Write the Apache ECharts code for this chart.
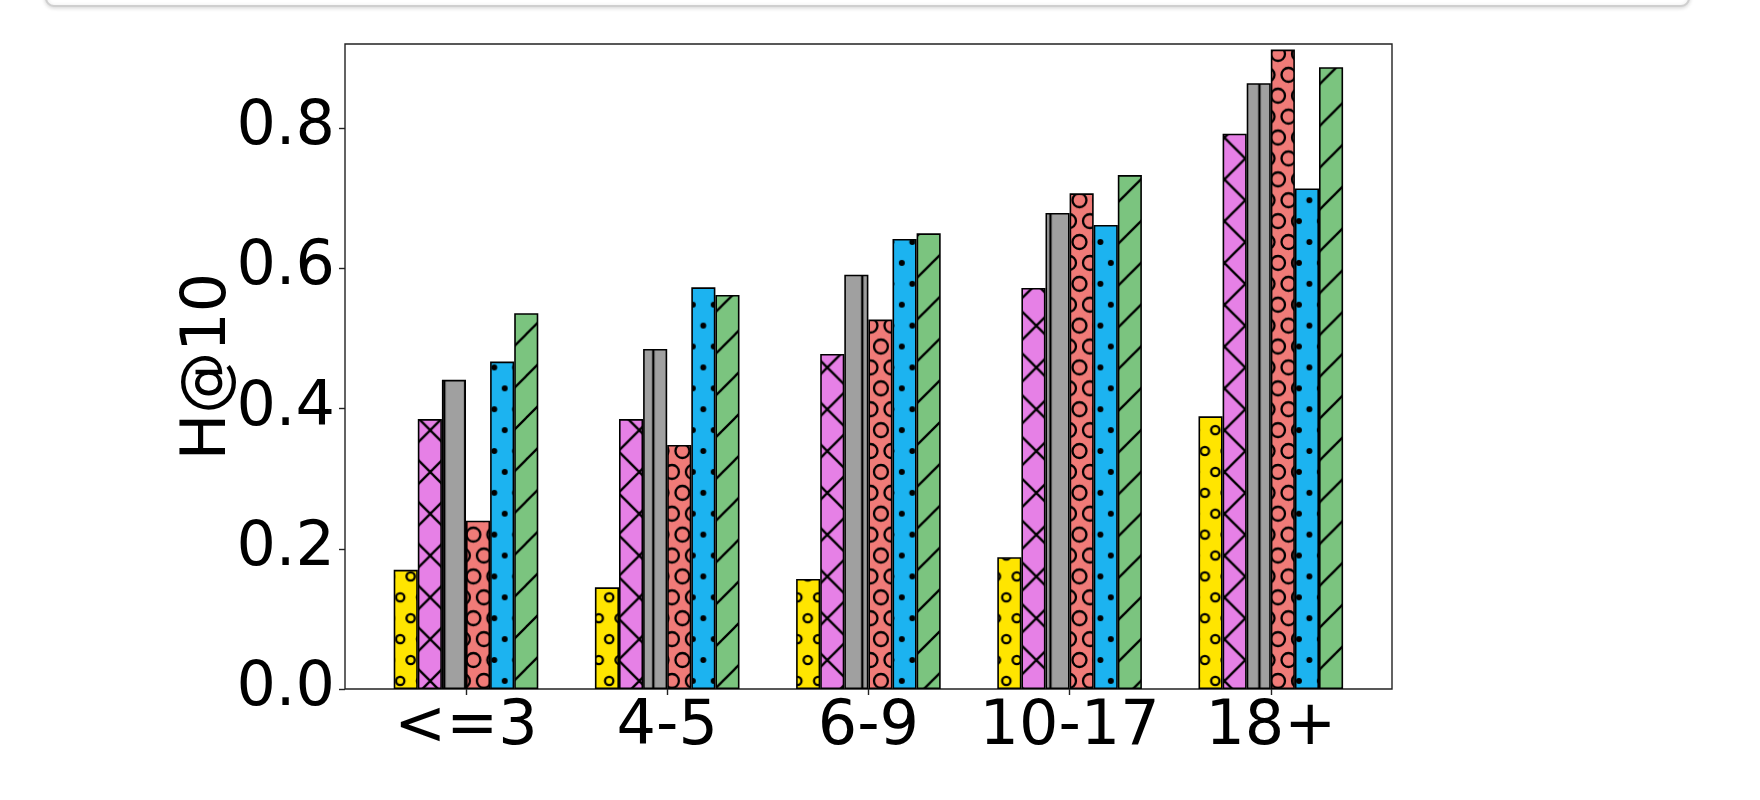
<!DOCTYPE html>
<html>
<head>
<meta charset="utf-8">
<script src="https://cdn.jsdelivr.net/npm/echarts@6/dist/echarts.min.js"></script>
<style>
  html, body { margin: 0; padding: 0; background: #fff; }
  #chart { width: 1760px; height: 800px; }
</style>
</head>
<body>
<div id="chart"></div>
<script>
// categories and H@10 values
const categories = ['<=3', '4-5', '6-9', '10-17', '18+'];
const yellowVals = [0.170, 0.145, 0.157, 0.188, 0.389];
const pinkVals = [0.385, 0.385, 0.478, 0.572, 0.792];
const grayVals = [0.441, 0.485, 0.591, 0.679, 0.864];
const redVals = [0.240, 0.348, 0.527, 0.707, 0.912];
const blueVals = [0.467, 0.573, 0.642, 0.662, 0.714];
const greenVals = [0.536, 0.562, 0.650, 0.733, 0.887];
const yTicks = [0, 0.2, 0.4, 0.6, 0.8];

// hatch tiles (period 21px in tile space, scaled a bit to match the picture)
const K = 20.9 / 21;
const makeTile = (w, h, bg, draw) => {
  const c = document.createElement('canvas');
  c.width = w;
  c.height = h;
  const ctx = c.getContext('2d');
  ctx.fillStyle = bg;
  ctx.fillRect(0, 0, w, h);
  ctx.strokeStyle = '#000';
  ctx.fillStyle = '#000';
  ctx.lineWidth = 2.3;
  draw(ctx);
  return c;
};
const circleCenters = [[0, 0], [21, 0], [0, 42], [21, 42], [10.5, 21]];
const circles = (r, filled) => (ctx) => {
  circleCenters.forEach(([cx, cy]) => {
    ctx.beginPath();
    ctx.arc(cx, cy, r, 0, Math.PI * 2);
    if (filled) ctx.fill();
    else ctx.stroke();
  });
};
const lines = (segs) => (ctx) => {
  ctx.beginPath();
  segs.forEach(([a, b, c, d]) => {
    ctx.moveTo(a, b);
    ctx.lineTo(c, d);
  });
  ctx.stroke();
};
const fwd = [[-42, 42, 42, -42], [0, 42, 42, 0], [0, 84, 84, 0]];
const back = [[-42, -42, 42, 42], [0, -42, 84, 42], [-42, 0, 42, 84]];

const pattern = (canvas, x, y) => ({ image: canvas, repeat: 'repeat', x: x, y: y, scaleX: K, scaleY: K });

const fills = [
  pattern(makeTile(21, 42, '#FFE500', circles(4.2, false)), 3.1, 12.1), // o
  pattern(makeTile(42, 42, '#E680E6', lines(fwd.concat(back))), 12.2, 12.2), // x
  pattern(makeTile(21, 21, '#A0A0A0', lines([[0, 0, 0, 21], [21, 0, 21, 21]])), 5.4, 0), // |
  pattern(makeTile(21, 42, '#F07B78', circles(7.0, false)), 3.1, 12.1), // O
  pattern(makeTile(21, 42, '#1CB3F0', circles(3.0, true)), 3.1, 12.1), // .
  pattern(makeTile(42, 42, '#7BC47F', lines(fwd)), 24.4, 0), // /
];
const seriesVals = [yellowVals, pinkVals, grayVals, redVals, blueVals, greenVals];

const chartDom = document.getElementById('chart');
const chart = echarts.init(chartDom, null, { renderer: 'canvas' });

const FONT = 'DejaVu Sans';

chart.setOption({
  animation: false,
  backgroundColor: '#fff',
  graphic: [
    {
      type: 'rect',
      z: -10,
      shape: { x: 46, y: -20, width: 1643, height: 26, r: 8 },
      style: { fill: '#fff', stroke: '#cfcfcf', lineWidth: 2, shadowBlur: 4, shadowOffsetY: 1, shadowColor: 'rgba(0,0,0,0.15)' },
    },
  ],
  grid: [
    // frame + y axis
    { left: 345, top: 44, width: 1047, height: 645, show: true, borderColor: '#222', borderWidth: 1.4, backgroundColor: 'transparent' },
    // bars
    { left: 365.4, top: 44, width: 1006, height: 645 },
  ],
  xAxis: [
    { gridIndex: 0, type: 'value', show: false, min: 0, max: 1 },
    {
      gridIndex: 1,
      type: 'category',
      data: categories,
      axisLine: { show: false },
      axisTick: { show: true, interval: 0, alignWithLabel: true, length: 6, lineStyle: { color: '#222', width: 1.4 } },
      axisLabel: { interval: 0, fontFamily: FONT, fontSize: 62, color: '#000', margin: 8 },
    },
  ],
  yAxis: [
    {
      gridIndex: 0,
      type: 'value',
      min: 0,
      max: 0.92,
      name: 'H@10',
      nameLocation: 'middle',
      nameGap: 105,
      nameMoveOverlap: false,
      nameTextStyle: { fontFamily: FONT, fontSize: 62, color: '#000' },
      axisLine: { show: false },
      splitLine: { show: false },
      axisTick: { show: true, length: 6, customValues: yTicks, lineStyle: { color: '#222', width: 1.4 } },
      axisLabel: {
        fontFamily: FONT,
        fontSize: 62,
        color: '#000',
        margin: 10,
        customValues: yTicks,
        formatter: (v) => v.toFixed(1),
      },
    },
    { gridIndex: 1, type: 'value', min: 0, max: 0.92, show: false },
  ],
  series: seriesVals.map((vals, i) => ({
    type: 'bar',
    xAxisIndex: 1,
    yAxisIndex: 1,
    data: vals,
    barWidth: 24.1,
    barGap: '0%',
    itemStyle: { color: fills[i], borderColor: '#000', borderWidth: 1.6 },
    emphasis: { disabled: true },
  })),
});
</script>
</body>
</html>
